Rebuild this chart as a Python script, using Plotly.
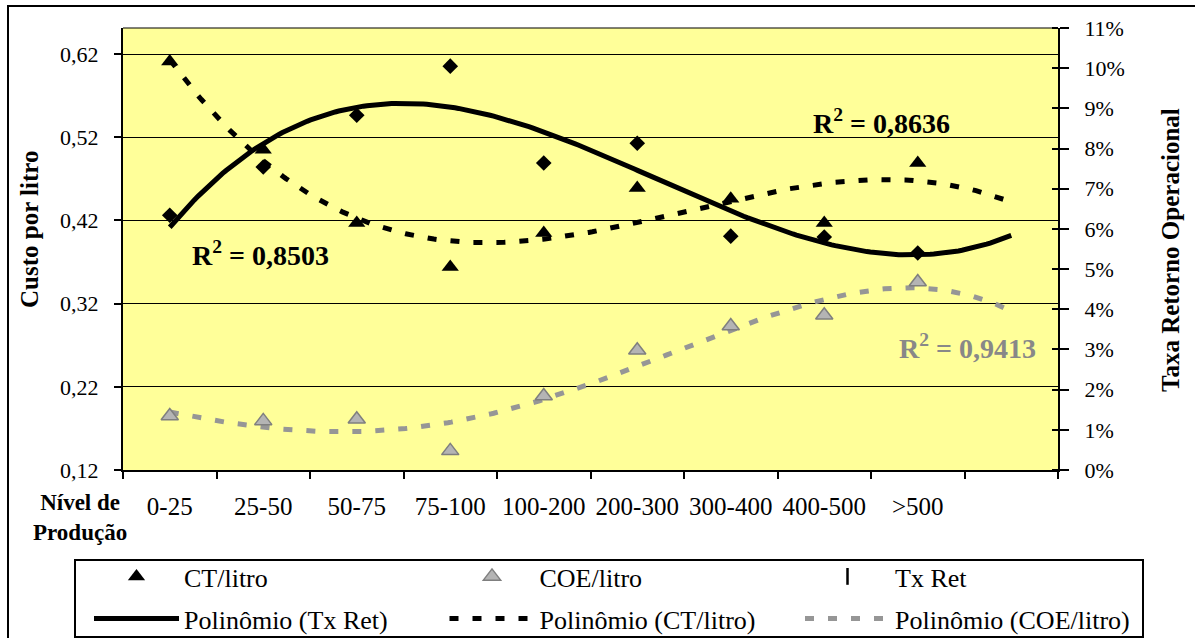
import numpy as np
import plotly.graph_objects as go

# Production-level classes (the last slot on the axis is left blank)
categorias = ["0-25", "25-50", "50-75", "75-100", "100-200",
              "200-300", "300-400", "400-500", ">500", ""]

# Cost per litre (R$) and operational return rate per production class
ct_litro = [0.611, 0.505, 0.417, 0.364, 0.405, 0.459, 0.446, 0.417, 0.489]
coe_litro = [0.185, 0.179, 0.181, 0.143, 0.209, 0.264, 0.293, 0.306, 0.346]
tx_ret = [0.0634, 0.0754, 0.0883, 0.1005, 0.0764, 0.0813, 0.0582, 0.0580, 0.0540]

# Coefficients of determination shown beside the trend curves
r2_tx, r2_ct, r2_coe = "0,8503", "0,8636", "0,9413"

custo_ticks = [0.12, 0.22, 0.32, 0.42, 0.52, 0.62]
taxa_ticks = [i / 100 for i in range(12)]

FONT = "Liberation Serif"
GREY_LINE = "#969696"
GREY_TEXT = "#888888"

# plot-area geometry in pixels
W, H = 1195, 638
L, R, T, B = 123, 1058, 28, 470


def px_x(p):
    return (p - L) / (R - L)


def px_y(p):
    return (B - p) / (B - T)


x_pts = np.arange(len(ct_litro))
x_fit = np.linspace(0, len(categorias) - 1, 240)


def poly_trend(values, degree):
    """Least-squares polynomial trend, evaluated across all axis slots."""
    coef = np.polyfit(x_pts + 1, values, degree)
    return np.polyval(coef, x_fit + 1)


trend_tx = poly_trend(tx_ret, 3)
trend_ct = poly_trend(ct_litro, 3)
trend_coe = poly_trend(coe_litro, 4)

fig = go.Figure()

# polynomial trend curves (second legend row)
fig.add_trace(go.Scatter(
    x=x_fit, y=trend_tx, yaxis="y2", mode="lines",
    line=dict(color="black", width=5), name="Polinômio (Tx Ret)",
    legend="legend2", hoverinfo="skip"))
fig.add_trace(go.Scatter(
    x=x_fit, y=trend_ct, mode="lines",
    line=dict(color="black", width=5, dash="9px,14px"),
    name="Polinômio (CT/litro)", legend="legend2", hoverinfo="skip"))
fig.add_trace(go.Scatter(
    x=x_fit, y=trend_coe, mode="lines",
    line=dict(color=GREY_LINE, width=5, dash="9px,14px"),
    name="Polinômio (COE/litro)", legend="legend2", hoverinfo="skip"))

# observed values (first legend row)
fig.add_trace(go.Scatter(
    x=x_pts, y=ct_litro, mode="markers", name="CT/litro",
    marker=dict(symbol="triangle-up", size=15, color="black")))
fig.add_trace(go.Scatter(
    x=x_pts, y=coe_litro, mode="markers", name="COE/litro",
    marker=dict(symbol="triangle-up", size=15, color="#B4B4B4",
                line=dict(color="#7F7F7F", width=1.5))))
fig.add_trace(go.Scatter(
    x=x_pts, y=tx_ret, yaxis="y2", mode="markers", name="Tx Ret",
    marker=dict(symbol="diamond", size=12, color="black"),
    showlegend=False))
# legend key for the return-rate series
fig.add_trace(go.Scatter(
    x=[None], y=[None], yaxis="y2", mode="markers", name="Tx Ret",
    marker=dict(symbol="line-ns", size=12, color="black",
                line=dict(color="black", width=2.5))))

tick_font = dict(family=FONT, size=22, color="black")
legend_common = dict(
    orientation="h", x=px_x(1156), xanchor="right", yanchor="top",
    font=dict(family=FONT, size=26, color="black"),
    bgcolor="rgba(0,0,0,0)", borderwidth=0,
    itemwidth=85, entrywidth=255.5, traceorder="normal")

fig.update_layout(
    width=W, height=H,
    margin=dict(l=L, r=W - R, t=T, b=H - B, autoexpand=False),
    paper_bgcolor="white",
    plot_bgcolor="#FFFF99",
    separators=",.",
    showlegend=True,
    xaxis=dict(
        range=[-0.5, len(categorias) - 0.5],
        tickvals=list(range(len(categorias))), ticktext=categorias,
        ticks="", tickfont=dict(family=FONT, size=25, color="black"),
        ticklabelstandoff=13,
        minor=dict(tickvals=[i - 0.5 for i in range(len(categorias) + 1)],
                   ticks="outside", ticklen=7, tickwidth=2, tickcolor="black"),
        showline=True, linecolor="black", linewidth=2,
        showgrid=False, zeroline=False, fixedrange=True),
    yaxis=dict(
        range=[0.12, 0.12 + (B - T) / 832],
        tickvals=custo_ticks, tickformat=".2f",
        ticks="outside", ticklen=7, tickwidth=1.5, tickcolor="black",
        tickfont=tick_font, ticklabelstandoff=11,
        showline=True, linecolor="black", linewidth=2,
        showgrid=True, gridcolor="black", gridwidth=1.2,
        zeroline=False, fixedrange=True),
    yaxis2=dict(
        overlaying="y", side="right",
        range=[0, 0.11], tickvals=taxa_ticks, tickformat=".0%",
        ticks="outside", ticklen=9, tickwidth=1.5, tickcolor="black",
        minor=dict(tickvals=[v + 1e-7 for v in taxa_ticks], ticks="inside",
                   ticklen=6, tickwidth=1.5, tickcolor="black"),
        tickfont=tick_font, ticklabelstandoff=11,
        showline=True, linecolor="black", linewidth=2,
        showgrid=False, zeroline=False, fixedrange=True),
    legend=dict(legend_common, y=px_y(553)),
    legend2=dict(legend_common, y=px_y(595)),
    shapes=[
        # thin top edge of the plot area
        dict(type="line", xref="paper", yref="paper", x0=0, x1=1, y0=1, y1=1,
             line=dict(color="black", width=1.2), layer="above"),
        # chart frame
        dict(type="rect", xref="paper", yref="paper",
             x0=px_x(8), x1=px_x(1200), y0=px_y(6), y1=px_y(700),
             line=dict(color="black", width=2), layer="below"),
        # legend box
        dict(type="rect", xref="paper", yref="paper",
             x0=px_x(75), x1=px_x(1143), y0=px_y(560), y1=px_y(637),
             line=dict(color="black", width=2), fillcolor="white",
             layer="below"),
    ],
    annotations=[
        dict(text="<b>Custo por litro</b>", textangle=-90,
             xref="paper", yref="paper", x=px_x(29), y=px_y(230),
             xanchor="center", yanchor="middle",
             showarrow=False, font=dict(family=FONT, size=25, color="black")),
        dict(text="<b>Taxa Retorno Operacional</b>", textangle=-90,
             xref="paper", yref="paper", x=px_x(1170), y=px_y(250),
             xanchor="center", yanchor="middle",
             showarrow=False, font=dict(family=FONT, size=25, color="black")),
        dict(text="<b>Nível de<br>Produção</b>", align="center",
             xref="paper", yref="paper", x=px_x(80), y=px_y(517),
             xanchor="center", yanchor="middle",
             showarrow=False, font=dict(family=FONT, size=23, color="black")),
        dict(text=f"<b>R<sup>2</sup> = {r2_tx}</b>",
             xref="paper", yref="paper", x=px_x(260), y=px_y(254),
             xanchor="center", yanchor="middle",
             showarrow=False, font=dict(family=FONT, size=28, color="black")),
        dict(text=f"<b>R<sup>2</sup> = {r2_ct}</b>",
             xref="paper", yref="paper", x=px_x(881), y=px_y(121),
             xanchor="center", yanchor="middle",
             showarrow=False, font=dict(family=FONT, size=28, color="black")),
        dict(text=f"<b>R<sup>2</sup> = {r2_coe}</b>",
             xref="paper", yref="paper", x=px_x(967), y=px_y(346),
             xanchor="center", yanchor="middle",
             showarrow=False, font=dict(family=FONT, size=28, color=GREY_TEXT)),
    ],
)

fig.write_html("out.html")
